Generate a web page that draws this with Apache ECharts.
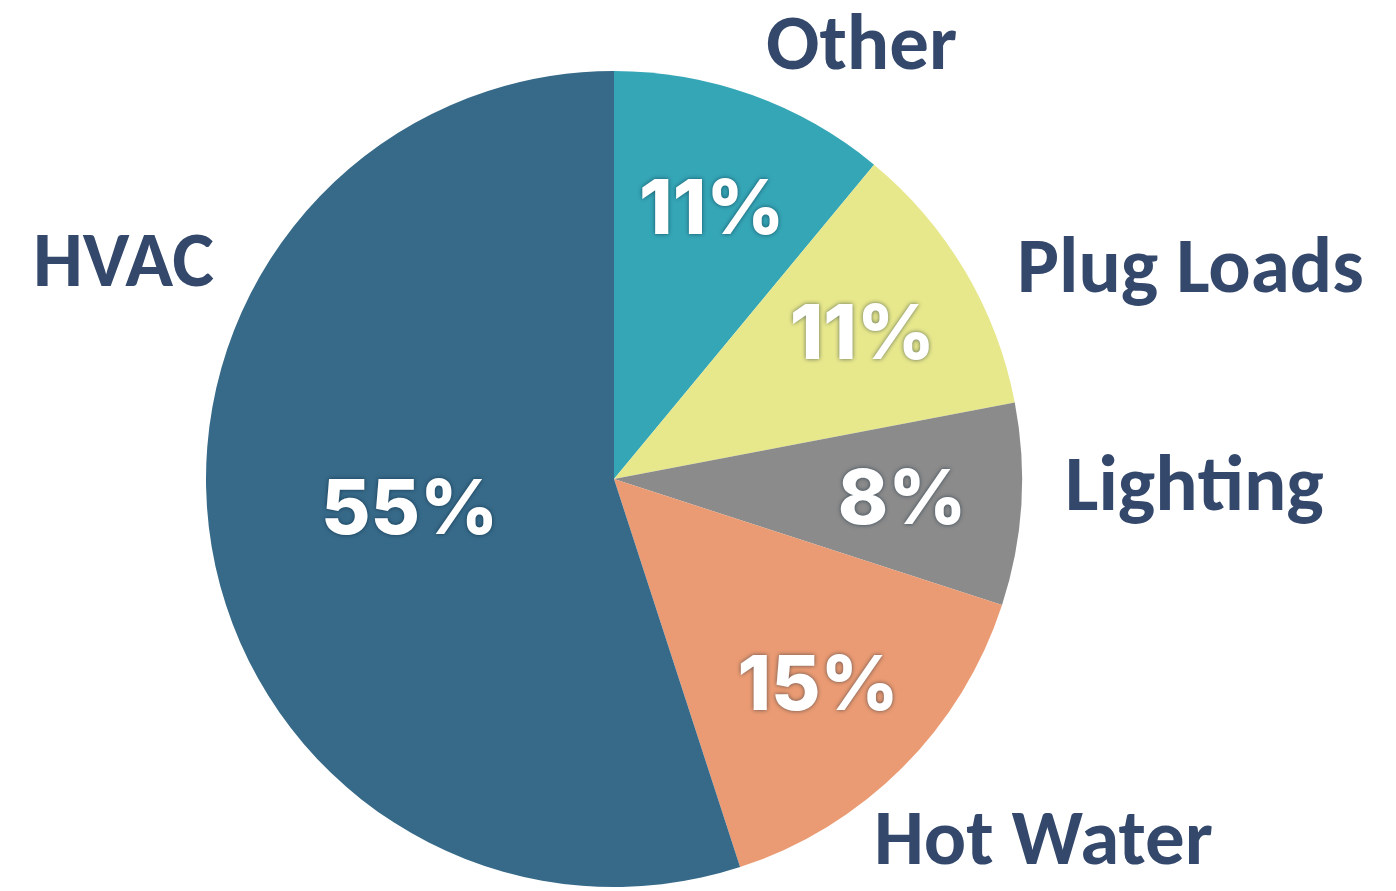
<!DOCTYPE html>
<html><head><meta charset="utf-8">
<script src="https://cdn.jsdelivr.net/npm/echarts@6/dist/echarts.min.js"></script>
<style>html,body{margin:0;padding:0;background:#fff}#c{width:1396px;height:891px}</style>
</head><body><div id="c"></div>
<script>
const categories = ['Other', 'Plug Loads', 'Lighting', 'Hot Water', 'HVAC'];
const values = [11, 11, 8, 15, 55];
const colors = ['#35a6b6', '#e7e78c', '#8b8b8b', '#ea9b73', '#376a89'];
// split into rich-text pieces so the font does not form a "ti" ligature
const outerLabels = ['{a|Other}', '{a|Plug Loads}', '{a|Ligh}{b|ting}', '{a|Hot Water}', '{a|HVAC}'];

const chart = echarts.init(document.getElementById('c'), null, {renderer: 'canvas'});
const cx = 614, cy = 479, R = 408;
const outerFont = '"Carlito", "Lato", "Noto Sans", sans-serif';
const innerFont = '"Inter", "Lato", "Open Sans", sans-serif';
const innerLabel = {
  show: true, position: 'inside', color: '#fff', fontFamily: innerFont,
  fontWeight: 800, fontSize: 76, textShadowColor: 'rgba(0,30,50,0.6)', textShadowBlur: 4,
  formatter: p => p.value + '%'
};
const data = categories.map((c, i) => ({name: c, value: values[i], itemStyle: {color: colors[i]}}));
const labelPos = [[766, 50], [1017, 273], [1065, 491], [874, 845], [33, 267]];
const outerStyle = {fill: '#34486c', fontFamily: outerFont, fontWeight: 'bold', fontSize: 79};
chart.setOption({
  animation: false,
  series: [
    {
      type: 'pie', center: [cx, cy], radius: [0, R], startAngle: 90, clockwise: true,
      data: data.map(d => Object.assign({}, d, {label: d.name === 'HVAC' ? innerLabel : {show: false}})),
      labelLine: {show: false}, emphasis: {disabled: true}, silent: true
    },
    {
      type: 'pie', center: [cx, cy + 4], radius: [R * 0.4, R], startAngle: 90, clockwise: true,
      data: data.map(d => ({name: d.name, value: d.value, itemStyle: {color: 'rgba(0,0,0,0)'},
        label: d.name === 'HVAC' ? {show: false} : innerLabel})),
      labelLine: {show: false}, emphasis: {disabled: true}, silent: true
    }
  ],
  graphic: outerLabels.map((n, i) => ({
    type: 'text', left: labelPos[i][0], top: labelPos[i][1] - 40,
    style: {text: n, rich: {a: Object.assign({}, outerStyle), b: Object.assign({}, outerStyle)}}
  }))
});
</script></body></html>
